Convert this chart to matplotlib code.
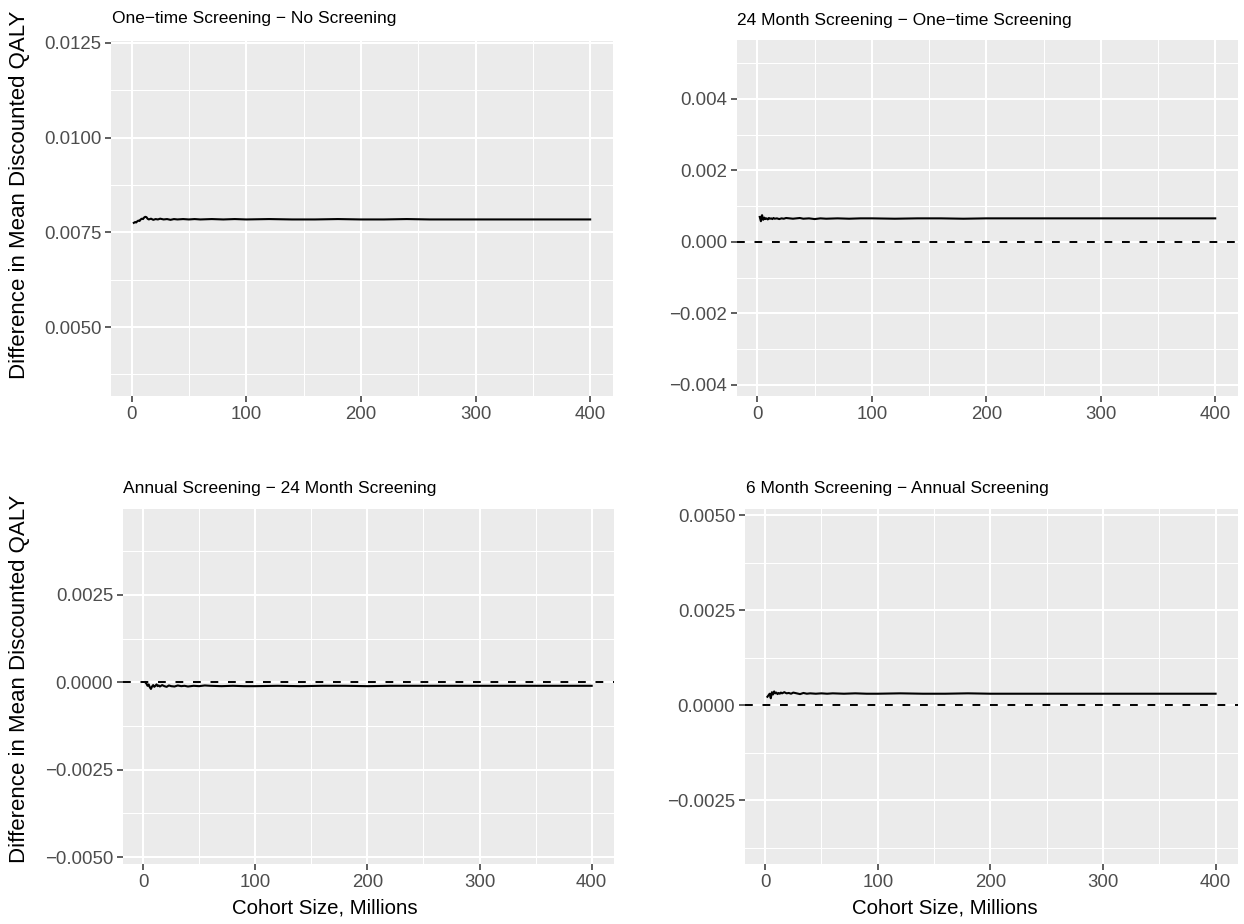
import matplotlib
matplotlib.use("Agg")
import matplotlib.pyplot as plt
from matplotlib.ticker import FixedLocator

plt.rcParams['font.family'] = ['Liberation Sans', 'DejaVu Sans']

cohort_millions = [2, 3, 4, 5, 6, 7, 8, 9, 10, 11, 12, 13, 14, 15, 17, 19, 21, 23, 25, 28, 31, 34,
                   37, 40, 45, 50, 55, 60, 70, 80, 90, 100, 120, 140, 160, 180, 200, 220, 240, 260,
                   280, 300, 320, 340, 360, 380, 400]

onetime_vs_none = [.00775, .00777, .00776, .00779, .00781, .00780, .00784, .00786, .00785, .00789,
                   .00791, .00790, .00786, .00784, .00786, .00783, .00785, .00784, .00786, .00784,
                   .00785, .00783, .00785, .00784, .00785, .00784, .00785, .00784, .00785, .00784,
                   .00785, .00784, .00785, .00784, .00784, .00785, .00784, .00784, .00785, .00784,
                   .00784, .00784, .00784, .00784, .00784, .00784, .00784]

m24_vs_onetime = [.00070, .00058, .00075, .00062, .00068, .00064, .00066, .00063, .00067, .00065,
                  .00066, .00064, .00067, .00065, .00066, .00064, .00066, .00065, .00067, .00066,
                  .00065, .00066, .00067, .00065, .00066, .00064, .00066, .00065, .00066, .00065,
                  .00066, .00066, .00065, .00066, .00066, .00065, .00066, .00066, .00066, .00066,
                  .00066, .00066, .00066, .00066, .00066, .00066, .00066]

annual_vs_m24 = [.00000, -.00004, -.00010, -.00006, -.00014, -.00019, -.00012, -.00008, -.00013,
                 -.00010, -.00006, -.00011, -.00009, -.00012, -.00008, -.00011, -.00013, -.00009,
                 -.00011, -.00012, -.00009, -.00011, -.00010, -.00012, -.00010, -.00011, -.00009,
                 -.00010, -.00011, -.00010, -.00011, -.00011, -.00010, -.00011, -.00010, -.00010,
                 -.00011, -.00010, -.00010, -.00010, -.00010, -.00010, -.00010, -.00010, -.00010,
                 -.00010, -.00010]

m6_vs_annual = [.00022, .00026, .00030, .00018, .00034, .00028, .00036, .00031, .00033, .00029,
                .00032, .00030, .00033, .00031, .00034, .00031, .00032, .00030, .00033, .00031,
                .00029, .00032, .00030, .00031, .00030, .00031, .00030, .00031, .00030, .00031,
                .00030, .00030, .00031, .00030, .00030, .00031, .00030, .00030, .00030, .00030,
                .00030, .00030, .00030, .00030, .00030, .00030, .00030]

titles = ["One\u2212time Screening \u2212 No Screening",
          "24 Month Screening \u2212 One\u2212time Screening",
          "Annual Screening \u2212 24 Month Screening",
          "6 Month Screening \u2212 Annual Screening"]

x_ticks = [0, 100, 200, 300, 400]
y_ticks = [[0.0050, 0.0075, 0.0100, 0.0125],
           [-0.004, -0.002, 0.000, 0.002, 0.004],
           [-0.0050, -0.0025, 0.0000, 0.0025],
           [-0.0025, 0.0000, 0.0025, 0.0050]]
y_fmt = ["{:.4f}", "{:.3f}", "{:.4f}", "{:.4f}"]
y_lims = [(0.00318, 0.01255), (-0.00431, 0.00565), (-0.0052, 0.00496), (-0.00418, 0.00516)]
series = [onetime_vs_none, m24_vs_onetime, annual_vs_m24, m6_vs_annual]
show_zero = [False, True, True, True]

W, H = 1244, 924
fig = plt.figure(figsize=(W / 100, H / 100), dpi=100)

# panel boxes in pixels: left, top, right, bottom
boxes = [(111, 41, 613, 396), (737, 40, 1238, 396), (123, 509, 614, 864), (745, 509, 1238, 864)]
title_pos = [(112, 19), (737, 20), (123, 488), (746, 488)]

for i in range(4):
    l, t, r, b = boxes[i]
    ax = fig.add_axes([l / W, 1 - b / H, (r - l) / W, (b - t) / H])
    ax.set_facecolor('#EBEBEB')
    for s in ax.spines.values():
        s.set_visible(False)
    ax.set_xlim(-17.9, 419.9)
    ax.set_ylim(*y_lims[i])
    yt = y_ticks[i]
    ax.xaxis.set_major_locator(FixedLocator(x_ticks))
    ax.yaxis.set_major_locator(FixedLocator(yt))
    ax.set_xticklabels([str(v) for v in x_ticks])
    ax.set_yticklabels([y_fmt[i].format(v).replace('-', '\u2212') for v in yt])
    xminor = [v + 50 for v in x_ticks[:-1]]
    step = yt[1] - yt[0]
    yminor = [yt[0] - step / 2] + [v + step / 2 for v in yt]
    ax.xaxis.set_minor_locator(FixedLocator(xminor))
    ax.yaxis.set_minor_locator(FixedLocator(yminor))
    ax.grid(which='major', color='white', linewidth=1.5)
    ax.grid(which='minor', color='white', linewidth=0.75)
    ax.set_axisbelow(True)
    ax.tick_params(which='major', length=4.5, width=1.1, color='#333333', labelcolor='#4D4D4D',
                   labelsize=13.4, pad=2.5)
    ax.tick_params(which='minor', length=0)
    if show_zero[i]:
        ax.axhline(0, color='black', linewidth=1.4, linestyle=(0, (4, 5)), zorder=2)
    ax.plot(cohort_millions, series[i], color='black', linewidth=1.5, zorder=3)
    tx, ty = title_pos[i]
    fig.text(tx / W, 1 - ty / H, titles[i], fontsize=12.5, ha='left', va='center', color='black')

ylab = "Difference in Mean Discounted QALY"
fig.text(20 / W, 1 - 195 / H, ylab, rotation=90, fontsize=16, ha='center', va='center')
fig.text(20 / W, 1 - 679 / H, ylab, rotation=90, fontsize=16, ha='center', va='center')
fig.text(325 / W, 1 - 908 / H, "Cohort Size, Millions", fontsize=14.7, ha='center', va='center')
fig.text(945 / W, 1 - 908 / H, "Cohort Size, Millions", fontsize=14.7, ha='center', va='center')

fig.savefig("out.png", dpi=100)
